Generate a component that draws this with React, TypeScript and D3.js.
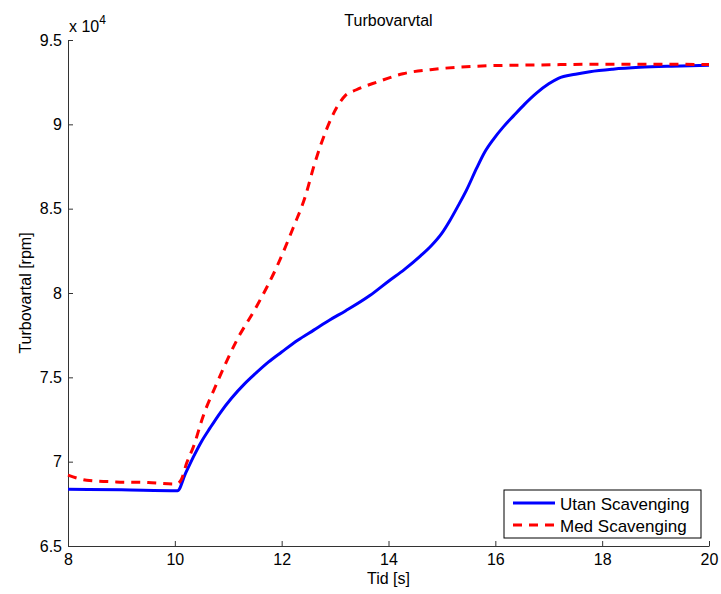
import React, { useEffect, useRef } from "react";
import * as d3 from "d3";

// time [s] and turbo speed [x 10^4 rpm]
const utanTid = [8, 9, 10.05, 10.2, 10.35, 10.5, 10.66, 10.85, 11.06, 11.3, 11.5, 11.75, 12, 12.3, 12.6, 12.9, 13.2, 13.65, 14, 14.3, 14.6, 14.8, 15, 15.15, 15.3, 15.46, 15.65, 15.8, 15.96, 16.15, 16.34, 16.55, 16.77, 17, 17.18, 17.5, 17.77, 18.2, 18.7, 19.3, 20];
const utanVarv = [6.836, 6.833, 6.828, 6.93, 7.03, 7.12, 7.2, 7.29, 7.376, 7.46, 7.52, 7.59, 7.65, 7.72, 7.78, 7.84, 7.895, 7.985, 8.07, 8.14, 8.22, 8.28, 8.355, 8.43, 8.515, 8.61, 8.74, 8.835, 8.91, 8.985, 9.05, 9.12, 9.185, 9.24, 9.273, 9.297, 9.312, 9.327, 9.338, 9.345, 9.35];

const medTid = [8, 8.35, 8.9, 9.5, 10.03, 10.13, 10.22, 10.35, 10.53, 10.78, 11.16, 11.53, 11.91, 12.22, 12.44, 12.62, 12.84, 13.03, 13.19, 13.4, 13.78, 14.27, 14.9, 15.84, 16.8, 17.77, 19, 20];
const medVarv = [6.92, 6.89, 6.88, 6.876, 6.867, 6.9, 6.99, 7.09, 7.27, 7.46, 7.72, 7.92, 8.156, 8.39, 8.57, 8.77, 8.97, 9.1, 9.17, 9.205, 9.25, 9.3, 9.328, 9.347, 9.352, 9.356, 9.356, 9.355];

const xTicks = [8, 10, 12, 14, 16, 18, 20];
const yTicks = [6.5, 7, 7.5, 8, 8.5, 9, 9.5];
const seriesNames = ["Utan Scavenging", "Med Scavenging"];

const W = 721;
const H = 594;
const margin = { top: 40, right: 12, bottom: 48, left: 68 };
const font = "Liberation Sans, Arial, Helvetica, sans-serif";

export default function App() {
  const svgRef = useRef<SVGSVGElement>(null);

  useEffect(() => {
    const svg = d3.select(svgRef.current);
    svg.selectAll("*").remove();

    const x = d3.scaleLinear().domain([8, 20]).range([margin.left, W - margin.right]);
    const y = d3.scaleLinear().domain([6.5, 9.5]).range([H - margin.bottom, margin.top]);

    const axisColor = "#333";

    // x axis (ticks pointing inward)
    const gx = svg.append("g")
      .attr("transform", `translate(0,${H - margin.bottom})`)
      .call(d3.axisBottom(x).tickValues(xTicks).tickFormat(d3.format("d")).tickSizeInner(-5).tickSizeOuter(0).tickPadding(8));
    gx.select(".domain").attr("stroke", axisColor);
    gx.selectAll(".tick line").attr("stroke", axisColor);
    gx.selectAll("text").attr("font-size", 16).attr("font-family", font).attr("fill", "#000");

    // y axis
    const gy = svg.append("g")
      .attr("transform", `translate(${margin.left},0)`)
      .call(d3.axisLeft(y).tickValues(yTicks).tickFormat(d3.format("~g")).tickSizeInner(-5).tickSizeOuter(0).tickPadding(6));
    gy.select(".domain").attr("stroke", axisColor);
    gy.selectAll(".tick line").attr("stroke", axisColor);
    gy.selectAll("text").attr("font-size", 16).attr("font-family", font).attr("fill", "#000");

    const line = d3.line<[number, number]>()
      .x(d => x(d[0]))
      .y(d => y(d[1]))
      .curve(d3.curveMonotoneX);

    const utan = utanTid.map((t, i) => [t, utanVarv[i]] as [number, number]);
    const med = medTid.map((t, i) => [t, medVarv[i]] as [number, number]);

    svg.append("path")
      .datum(utan)
      .attr("d", line)
      .attr("fill", "none")
      .attr("stroke", "#0000ff")
      .attr("stroke-width", 3)
      .attr("stroke-linejoin", "round");

    svg.append("path")
      .datum(med)
      .attr("d", line)
      .attr("fill", "none")
      .attr("stroke", "#ff0000")
      .attr("stroke-width", 3)
      .attr("stroke-dasharray", "9,7");

    // title and labels
    svg.append("text")
      .attr("x", (margin.left + W - margin.right) / 2)
      .attr("y", 26)
      .attr("text-anchor", "middle")
      .attr("font-size", 16)
      .attr("font-family", font)
      .text("Turbovarvtal");

    svg.append("text")
      .attr("x", (margin.left + W - margin.right) / 2)
      .attr("y", 584)
      .attr("text-anchor", "middle")
      .attr("font-size", 16)
      .attr("font-family", font)
      .text("Tid [s]");

    svg.append("text")
      .attr("transform", `translate(31,${(margin.top + H - margin.bottom) / 2}) rotate(-90)`)
      .attr("text-anchor", "middle")
      .attr("font-size", 16)
      .attr("font-family", font)
      .text("Turbovartal [rpm]");

    // exponent
    const exp = svg.append("text")
      .attr("x", 69)
      .attr("y", 32)
      .attr("font-size", 16)
      .attr("font-family", font);
    exp.append("tspan").text("x 10");
    exp.append("tspan").attr("font-size", 12).attr("dy", -8).text("4");

    // legend
    const lg = svg.append("g").attr("transform", "translate(504,490)");
    lg.append("rect")
      .attr("width", 197)
      .attr("height", 48)
      .attr("fill", "#fff")
      .attr("stroke", "#000")
      .attr("stroke-width", 1);
    const rows = [
      { name: seriesNames[0], color: "#0000ff", dash: null },
      { name: seriesNames[1], color: "#ff0000", dash: "9,7" },
    ];
    rows.forEach((r, i) => {
      const cy = 13 + i * 22;
      lg.append("line")
        .attr("x1", 9)
        .attr("x2", 51)
        .attr("y1", cy)
        .attr("y2", cy)
        .attr("stroke", r.color)
        .attr("stroke-width", 3)
        .attr("stroke-dasharray", r.dash);
      lg.append("text")
        .attr("x", 56)
        .attr("y", cy + 7)
        .attr("font-size", 17)
        .attr("font-family", font)
        .text(r.name);
    });
  }, []);

  return (
    <svg
      ref={svgRef}
      width={W}
      height={H}
      style={{ position: "absolute", left: 0, top: 0, background: "#fff" }}
    />
  );
}
